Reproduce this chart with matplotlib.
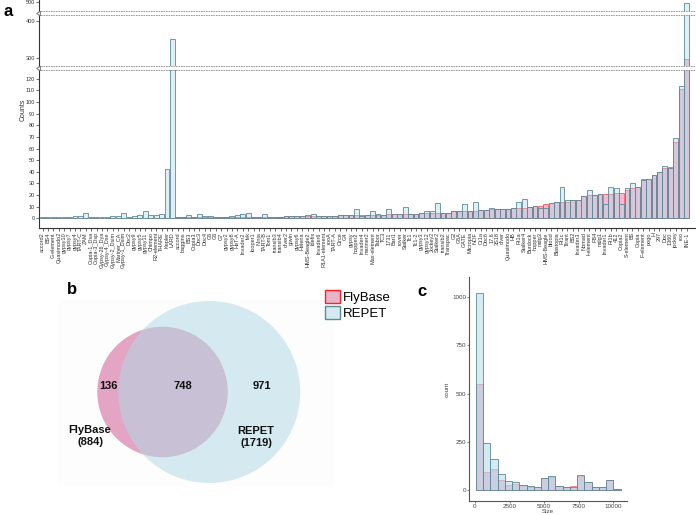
import numpy as np
import matplotlib
matplotlib.use("Agg")
import matplotlib.pyplot as plt
from matplotlib.patches import Circle, Patch
from matplotlib.lines import Line2D

plt.rcParams['font.family'] = ['Liberation Sans', 'DejaVu Sans']

# ---- panel a: counts per TE family ----
te_names = ["accord2", "BS4", "G-element", "Quasimodo2", "gypsy10", "gypsy7", "gypsy4", "TART-C", "ZAM",
            "Copia-1_Dsa", "Copia-3_Dsp", "Gypsy-26_Dya", "Gypsy-4_Dse", "Gypsy-2_Dsim", "Mariner_CA",
            "Gypsy-1_Dsim", "Doc2", "gypsy9", "gypsy5", "gypsy11", "Chimpo", "R2-element", "THARE", "Kepler", "LARD",
            "accord", "baggins", "BS3", "Copia3", "Doc3", "Doc4", "G5", "G6", "G7", "gypsy2", "gypsy8", "HeT-A",
            "Invader2", "Ivk", "looper1", "Ninja", "TART-B", "Tom1", "transib3", "transib4",
            "diver2", "gtwin", "gypsy6", "Helena", "HMS-Beagle2", "Idefix", "Invader6", "R1A1-element", "rooA", "TART-A",
            "Circe", "G4", "gypsy", "hopper2", "Invader4", "mariner2", "Max-element", "Tabor", "TC3",
            "1731", "Bari1", "rover", "Stalker", "Tc1", "Tc1-2",
            "gypsy3", "gypsy12", "Jockey2", "Stalker2", "transib2", "Transpac",
            "G2", "G5A", "GATE", "Micropia", "NOF", "Cr1a", "Doc6", "17.6", "3S18", "diver", "Quasimodo",
            "HB", "Rt1a", "Stalker4", "Burdock", "hopper", "mdg3", "HMS-Beagle", "blood", "Blastopia", "Rt1c",
            "Tirant", "BS2", "Invader3", "Nomad", "I-element", "FB4", "mdg1", "Invader1", "Rt1b", "412", "Copia2",
            "S-element", "BS", "Copia", "F-element", "pogo", "H", "297", "Doc", "1360", "jockey", "roo", "INE-1"]

flybase_counts = ([0] * 25 + [1] * 20 + [2] * 10 + [3] * 9 + [4] * 6 + [5] * 6 + [6] * 5 + [7] * 2 + [8] * 4 + [9] * 3
                  + [10, 11, 11, 12, 13, 14, 14, 14, 16, 16, 19, 20, 20, 21, 21, 21, 22, 22, 24, 26, 27,
                     34, 34, 37, 40, 43, 44, 66, 111, 297])

repet_counts = ([1, 1, 1, 1, 1, 1, 2, 2, 5, 1, 1, 1, 1, 2, 2, 5, 1, 2, 3, 6, 3, 3, 4, 42, 350]
                + [1, 1, 3, 1, 4, 2, 2, 1, 1, 1, 2, 3, 4, 5, 1, 1, 4, 1, 1, 1]
                + [2, 2, 2, 2, 3, 4, 2, 2, 2, 2]
                + [3, 3, 3, 8, 2, 3, 6, 4, 3]
                + [8, 4, 4, 10, 4, 4]
                + [5, 6, 6, 13, 5, 5]
                + [6, 6, 12, 6, 14]
                + [7, 7]
                + [9, 8, 8, 8]
                + [9, 14, 17]
                + [10, 11, 9, 9, 13, 14, 27, 16, 16, 16, 19, 24, 20, 21, 12, 27, 26, 12, 26, 30, 27,
                   33, 34, 37, 40, 45, 43, 69, 114, 497])

# ---- panel b: venn ----
venn_flybase_only = 136
venn_shared = 748
venn_repet_only = 971

# ---- panel c: size histogram ----
size_bin_start = 70
size_bin_width = 523
size_flybase = [548, 91, 109, 52, 28, 33, 25, 15, 15, 62, 70, 20, 18, 22, 72, 40, 15, 15, 50, 5]
size_repet = [1020, 243, 160, 83, 48, 40, 26, 22, 15, 60, 72, 20, 18, 15, 78, 42, 15, 18, 50, 3]

W, H = 696, 515
fig = plt.figure(figsize=(W / 100, H / 100), dpi=100)


def box(x0, y0, x1, y1):
    return [x0 / W, 1 - y1 / H, (x1 - x0) / W, (y1 - y0) / H]


fb_face, fb_edge = '#eb9fbf', '#ff2020'
rp_edge = '#5b8a99'
axis_col = '#333333'

ax_lo = fig.add_axes(box(39, 70, 696, 228))
ax_mid = fig.add_axes(box(39, 15, 696, 66))
ax_top = fig.add_axes(box(39, 0, 696, 11))
xpos = np.arange(len(te_names))

for ax, lim in [(ax_lo, (-8.3, 127.5)), (ax_mid, (278, 416)), (ax_top, (475, 506))]:
    ax.bar(xpos, flybase_counts, width=0.9, color=fb_face, alpha=0.7, edgecolor=fb_edge, linewidth=0.6)
    ax.bar(xpos, repet_counts, width=0.9, facecolor=(0.678, 0.847, 0.902, 0.4), edgecolor=rp_edge, linewidth=0.6)
    ax.set_xlim(-0.65, 120.75)
    ax.set_ylim(*lim)
    for s in ['top', 'right']:
        ax.spines[s].set_visible(False)
    ax.spines['left'].set_color(axis_col)
    ax.spines['left'].set_linewidth(0.8)
    ax.tick_params(axis='y', labelsize=4, length=2, width=0.5, pad=1, colors=axis_col)
    ax.patch.set_alpha(0)

for ax in [ax_mid, ax_top]:
    ax.spines['bottom'].set_visible(False)
    ax.set_xticks([])

ax_lo.set_yticks(np.arange(0, 121, 10))
ax_mid.set_yticks([300, 400])
ax_top.set_yticks([500])
ax_lo.spines['bottom'].set_color(axis_col)
ax_lo.spines['bottom'].set_linewidth(0.8)
ax_lo.set_xticks(xpos)
ax_lo.set_xticklabels(te_names, rotation=90, fontsize=4)
ax_lo.tick_params(axis='x', length=2, width=0.5, pad=1, colors=axis_col)
fig.text(23 / W, 1 - 110 / H, 'Counts', rotation=90, fontsize=5, ha='center', va='center', color=axis_col)

# axis break marks
for yb in [11, 15, 66, 70]:
    fig.add_artist(Line2D([38 / W, 1.0], [1 - yb / H] * 2, color='#8a8a8a', lw=0.6, linestyle=(0, (2, 1))))
for yb in [13, 68]:
    fig.add_artist(Line2D([38 / W], [1 - yb / H], marker='<', color='#555555', markersize=3,
                          markerfacecolor='white', markeredgewidth=0.5))

# ---- panel b ----
ax_v = fig.add_axes([0, 0, 1, 1], zorder=-1)
ax_v.set_xlim(0, W)
ax_v.set_ylim(H, 0)
ax_v.axis('off')

n_fb = venn_flybase_only + venn_shared
n_rp = venn_repet_only + venn_shared
k = 91 / np.sqrt(n_rp)
r_fb, r_rp = k * np.sqrt(n_fb), k * np.sqrt(n_rp)


def lens_area(r1, r2, d):
    if d >= r1 + r2:
        return 0.0
    if d <= abs(r1 - r2):
        return np.pi * min(r1, r2) ** 2
    a1 = r1 ** 2 * np.arccos((d ** 2 + r1 ** 2 - r2 ** 2) / (2 * d * r1))
    a2 = r2 ** 2 * np.arccos((d ** 2 + r2 ** 2 - r1 ** 2) / (2 * d * r2))
    a3 = 0.5 * np.sqrt((-d + r1 + r2) * (d + r1 - r2) * (d - r1 + r2) * (d + r1 + r2))
    return a1 + a2 - a3


target = np.pi * k ** 2 * venn_shared
lo, hi = abs(r_rp - r_fb), r_rp + r_fb
for _ in range(60):
    mid = (lo + hi) / 2
    if lens_area(r_fb, r_rp, mid) > target:
        lo = mid
    else:
        hi = mid
dist = (lo + hi) / 2

cx_fb, cy = 162.5, 392
ax_v.add_patch(plt.Rectangle((58, 300), 277, 187, facecolor='#fdfdfd', edgecolor='none'))
ax_v.add_patch(Circle((cx_fb, cy), r_fb, facecolor='#e3a5c3', edgecolor='none'))
ax_v.add_patch(Circle((cx_fb + dist, cy), r_rp, facecolor=(0.70, 0.85, 0.90, 0.55), edgecolor='none'))

vt = dict(fontsize=8, fontweight='bold', ha='center', va='center', color='#111111')
ax_v.text(108, 386, str(venn_flybase_only), **vt)
ax_v.text(183, 386, str(venn_shared), **vt)
ax_v.text(262, 386, str(venn_repet_only), **vt)
ax_v.text(90, 436, 'FlyBase\n(%d)' % n_fb, linespacing=1.25, **vt)
ax_v.text(256, 437, 'REPET\n(%d)' % n_rp, linespacing=1.25, **vt)

fig.legend(handles=[Patch(facecolor='#e9b3c8', edgecolor=fb_edge, linewidth=1, label='FlyBase'),
                    Patch(facecolor='#d4e9f0', edgecolor=rp_edge, linewidth=1, label='REPET')],
           loc='upper left', bbox_to_anchor=(318 / W, 1 - 283 / H), frameon=False, fontsize=9.5,
           handlelength=1.2, handleheight=1.2, handletextpad=0.2, labelspacing=0.15, borderpad=0)

# panel letters
fig.text(4 / W, 1 - 11 / H, 'a', fontsize=12, fontweight='bold', va='center')
fig.text(67 / W, 1 - 290 / H, 'b', fontsize=12, fontweight='bold', va='center')
fig.text(417 / W, 1 - 291 / H, 'c', fontsize=12, fontweight='bold', va='center')

# ---- panel c ----
ax_c = fig.add_axes(box(469, 277, 627, 501))
edges = size_bin_start + size_bin_width * np.arange(len(size_repet))
ax_c.bar(edges, size_flybase, width=size_bin_width, align='edge', color='#d98bb3', alpha=0.5,
         edgecolor=fb_edge, linewidth=0.6)
ax_c.bar(edges, size_repet, width=size_bin_width, align='edge', facecolor=(0.678, 0.847, 0.902, 0.5),
         edgecolor=rp_edge, linewidth=0.6)
ax_c.set_xlim(-430, 11000)
ax_c.set_ylim(-57, 1105)
ax_c.set_xticks([0, 2500, 5000, 7500, 10000])
ax_c.set_yticks([0, 250, 500, 750, 1000])
for s in ['top', 'right']:
    ax_c.spines[s].set_visible(False)
for s in ['left', 'bottom']:
    ax_c.spines[s].set_color('#555555')
    ax_c.spines[s].set_linewidth(0.8)
ax_c.tick_params(labelsize=4.5, length=1.5, width=0.5, pad=0.5, colors='#444444')
ax_c.set_xlabel('Size', fontsize=4.5, labelpad=0, color='#444444')
ax_c.set_ylabel('count', fontsize=4.5, labelpad=2, color='#444444')

fig.savefig('out.png', dpi=100)
